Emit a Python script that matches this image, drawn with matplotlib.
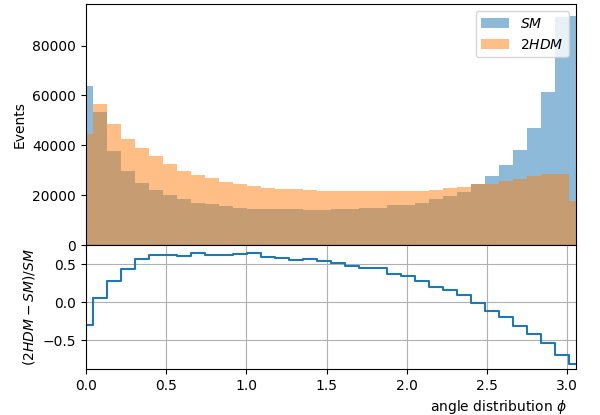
import numpy as np
import matplotlib
matplotlib.use("Agg")
import matplotlib.pyplot as plt

# bin centres: 0, 5, ..., 175 degrees (in radians)
angulos_grados = list(range(0, 180, 5))

eventos_sm = [63700, 53500, 37700, 29700, 24800, 21900, 19900, 18450, 17030, 16380,
              15490, 14880, 14350, 14375, 14300, 14295, 14050, 14120, 14280, 14610,
              14900, 14900, 15860, 16200, 16960, 18400, 19600, 21300, 24400, 27500,
              32000, 38000, 47000, 61300, 91500, 92000]

eventos_2hdm = [44400, 56400, 48400, 42700, 39100, 35700, 32300, 29700, 28100, 26700,
                25200, 24400, 23600, 23000, 22600, 22300, 22000, 21800, 21700, 21600,
                21600, 21600, 21700, 21800, 21800, 22100, 22700, 23300, 24300, 24500,
                25700, 26400, 27700, 28300, 28500, 17700]

centros = np.radians(angulos_grados)
sm = np.array(eventos_sm)
hdm = np.array(eventos_2hdm)
ratio = (hdm - sm) / sm

fig = plt.figure(figsize=(6, 4.15), dpi=100)
gs = fig.add_gridspec(2, 1, height_ratios=[241, 124], hspace=0,
                      left=0.143, right=0.96, top=0.99, bottom=0.111)
ax1 = fig.add_subplot(gs[0])
ax2 = fig.add_subplot(gs[1], sharex=ax1)

ancho = np.pi / 36
ax1.bar(centros, sm, width=ancho, alpha=0.5, label='$SM$', linewidth=0)
ax1.bar(centros, hdm, width=ancho, alpha=0.5, label='$2HDM$', linewidth=0)
ax1.set_ylabel('Events')
ax1.legend(loc='upper right')
ax1.tick_params(labelbottom=False)

ax2.step(centros, ratio, where='mid')
ax2.grid(True)
ax2.set_ylabel('$(2HDM-SM)/SM$')
ax2.set_xlabel(r'angle distribution $\phi$', ha='right', x=0.982)
ax2.set_ylim(-0.875, 0.755)
ax2.set_xlim(centros[0], centros[-1])

fig.savefig('out.png')
